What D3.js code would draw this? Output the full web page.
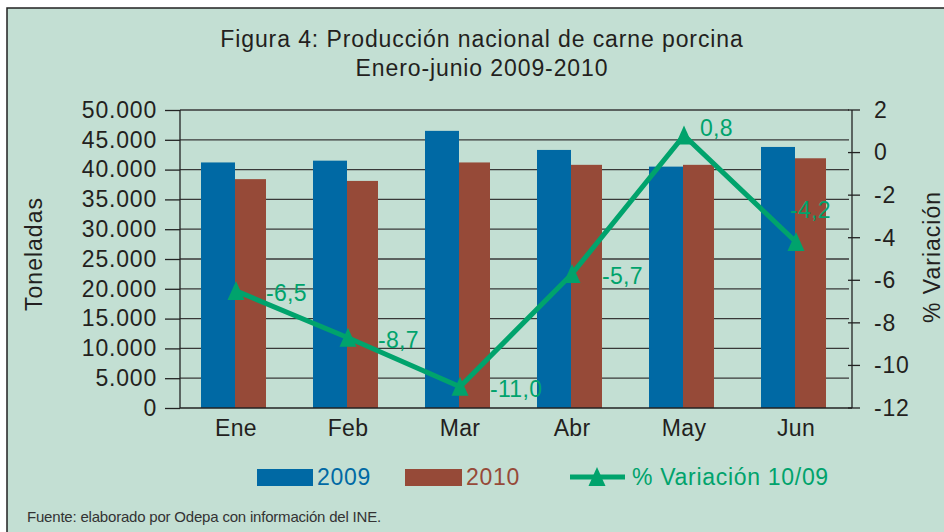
<!DOCTYPE html>
<html><head><meta charset="utf-8">
<script src="https://cdn.jsdelivr.net/npm/d3@7"></script>
<style>body{margin:0;background:#fff}svg{display:block}text{font-family:"Liberation Sans",Arial,sans-serif}</style>
</head><body><svg id="c" width="944" height="532"></svg>
<script>
const months = ["Ene","Feb","Mar","Abr","May","Jun"];
const prod2009 = [41200, 41500, 46500, 43300, 40500, 43800];
const prod2010 = [38400, 38100, 41200, 40800, 40800, 41900];
const variation = [-6.5, -8.7, -11.0, -5.7, 0.8, -4.2];
const leftTicks = [0,5000,10000,15000,20000,25000,30000,35000,40000,45000,50000];
const rightTicks = [2,0,-2,-4,-6,-8,-10,-12];
const seriesNames = ["2009","2010","% Variación 10/09"];

const C_BLUE="#0069a4", C_RED="#964a38", C_GREEN="#00a36c", C_BG="#c3dfd3", C_TXT="#231f20";
const FS=23, LS=0.8;
const svg=d3.select("#c");
svg.append("rect").attr("x",7).attr("y",8).attr("width",950).attr("height",540).attr("fill",C_BG).attr("stroke","#222").attr("stroke-width",1.5);

const L=180,R=852,T=110,B=408;
const x=d3.scaleBand().domain(months).range([L,R]);
const xs=d3.scaleBand().domain(["2009","2010"]).range([0,66]);
const y=d3.scaleLinear().domain([0,50000]).range([B,T]);
const y2=d3.scaleLinear().domain([-12,2]).range([B,T]);
const fmt=d=>d3.format(",")(d).replace(/,/g,".");
const fmt2=d=>String(d);
function styleText(sel,color){sel.attr("font-size",FS).attr("fill",color||C_TXT).attr("letter-spacing",LS).style("font-family","Liberation Sans, Arial, sans-serif");}

// title
svg.append("text").attr("x",482).attr("y",47).attr("text-anchor","middle").call(styleText).attr("letter-spacing",0.9).text("Figura 4: Producción nacional de carne porcina");
svg.append("text").attr("x",482).attr("y",76).attr("text-anchor","middle").call(styleText).attr("letter-spacing",0.9).text("Enero-junio 2009-2010");

// gridlines
svg.append("g").selectAll("line").data(leftTicks.filter(d=>d>0)).join("line")
 .attr("x1",L).attr("x2",R-3).attr("y1",d=>y(d)).attr("y2",d=>y(d)).attr("stroke","#383838").attr("stroke-width",1.3);

// bars
const g=svg.append("g");
months.forEach((m,i)=>{
  const x0=x(m)+x.bandwidth()/2-35;
  g.append("rect").attr("x",x0+xs("2009")).attr("width",xs.bandwidth()+1).attr("y",y(prod2009[i])).attr("height",B-y(prod2009[i])).attr("fill",C_BLUE);
  g.append("rect").attr("x",x0+xs("2010")+1).attr("width",xs.bandwidth()-2).attr("y",y(prod2010[i])).attr("height",B-y(prod2010[i])).attr("fill",C_RED);
});

// axes
const ax=svg.append("g").attr("transform",`translate(${L},0)`).call(d3.axisLeft(y).tickValues(leftTicks).tickFormat(fmt).tickSize(15).tickPadding(8));
ax.select(".domain").remove();
ax.selectAll("line").attr("stroke","#222").attr("stroke-width",1.3);
ax.selectAll("text").call(styleText);
svg.append("line").attr("x1",L).attr("x2",L).attr("y1",T).attr("y2",B).attr("stroke","#222").attr("stroke-width",1.3);
svg.append("line").attr("x1",L).attr("x2",R).attr("y1",B).attr("y2",B).attr("stroke","#222").attr("stroke-width",1.3);
svg.append("line").attr("x1",R).attr("x2",R).attr("y1",T).attr("y2",B).attr("stroke","#222").attr("stroke-width",1.3);
const ar=svg.append("g").attr("transform",`translate(${R},0)`).call(d3.axisRight(y2).tickValues(rightTicks).tickFormat(fmt2).tickSize(0).tickPadding(22));
ar.select(".domain").remove();
ar.selectAll("text").call(styleText);
svg.append("g").selectAll("line").data(rightTicks).join("line").attr("x1",R-4).attr("x2",R+8).attr("y1",d=>y2(d)).attr("y2",d=>y2(d)).attr("stroke","#222").attr("stroke-width",1.3);

const axb=svg.append("g").attr("transform",`translate(0,${B})`).call(d3.axisBottom(x).tickSize(0).tickPadding(12));
axb.select(".domain").remove();
axb.selectAll("text").call(styleText).attr("letter-spacing",0.3);

// axis titles
svg.append("text").attr("transform","translate(42,254) rotate(-90)").attr("text-anchor","middle").call(styleText).attr("letter-spacing",1).text("Toneladas");
svg.append("text").attr("transform","translate(940,257) rotate(-90)").attr("text-anchor","middle").call(styleText).attr("letter-spacing",1).text("% Variación");

// line
const cx=m=>x(m)+x.bandwidth()/2;
const line=d3.line().x((d,i)=>cx(months[i])).y(d=>y2(d));
svg.append("path").datum(variation).attr("d",line).attr("fill","none").attr("stroke",C_GREEN).attr("stroke-width",5).attr("stroke-linejoin","miter");
const tri="M0,-10L8.5,9L-8.5,9Z";
svg.append("g").selectAll("path").data(variation).join("path").attr("d",tri)
 .attr("transform",(d,i)=>`translate(${cx(months[i])},${y2(d)})`).attr("fill",C_GREEN);
const lblOff=(i)=> i===4?[16,-8]:(i===5?[-6,-32]:[30,2]);
svg.append("g").selectAll("text").data(variation).join("text")
 .attr("x",(d,i)=>cx(months[i])+lblOff(i)[0]).attr("y",(d,i)=>y2(d)+lblOff(i)[1]).attr("dy","0.35em")
 .call(styleText,C_GREEN).attr("letter-spacing",0.3).text(d=>d3.format(".1f")(d).replace(".",",").replace("−","-"));

// legend
const ly=477;
svg.append("rect").attr("x",257).attr("y",ly-8).attr("width",56).attr("height",17).attr("fill",C_BLUE);
svg.append("text").attr("x",317).attr("y",ly).attr("dy","0.35em").call(styleText,C_BLUE).attr("letter-spacing",0.7).text(seriesNames[0]);
svg.append("rect").attr("x",405).attr("y",ly-8).attr("width",57).attr("height",17).attr("fill",C_RED);
svg.append("text").attr("x",466).attr("y",ly).attr("dy","0.35em").call(styleText,C_RED).attr("letter-spacing",0.7).text(seriesNames[1]);
svg.append("line").attr("x1",570).attr("x2",625).attr("y1",ly).attr("y2",ly).attr("stroke",C_GREEN).attr("stroke-width",5);
svg.append("path").attr("d",tri).attr("transform",`translate(597,${ly})`).attr("fill",C_GREEN);
svg.append("text").attr("x",632).attr("y",ly).attr("dy","0.35em").call(styleText,C_GREEN).attr("letter-spacing",0.7).text(seriesNames[2]);

// footer
svg.append("text").attr("x",27).attr("y",522).attr("font-size",15).attr("fill","#333").attr("letter-spacing",-0.2).text("Fuente: elaborado por Odepa con información del INE.");
</script></body></html>
